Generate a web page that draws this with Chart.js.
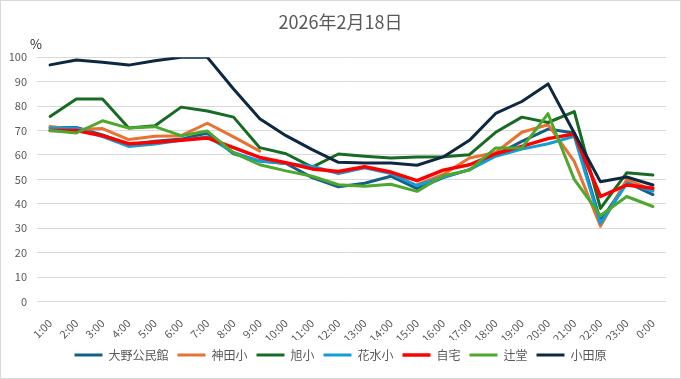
<!DOCTYPE html>
<html>
<head>
<meta charset="utf-8">
<script src="https://cdn.jsdelivr.net/npm/chart.js@4.4.1/dist/chart.umd.min.js"></script>
<style>
  html, body { margin: 0; padding: 0; background: #fff; }
  canvas { display: block; }
</style>
</head>
<body>
<canvas id="c" width="681" height="379"></canvas>
<script>
const titleText = '2026年2月18日';
const unitLabel = '%';
const labels = ['1:00','2:00','3:00','4:00','5:00','6:00','7:00','8:00','9:00','10:00','11:00','12:00',
                '13:00','14:00','15:00','16:00','17:00','18:00','19:00','20:00','21:00','22:00','23:00','0:00'];
const seriesNames = ['大野公民館','神田小','旭小','花水小','自宅','辻堂','小田原'];
const seriesColors = ['#156082','#E97132','#196B24','#0F9ED5','#FF0000','#4EA72E','#0E2841'];

const oonoData    = [71.3, 71.3, 68.2, 64.2, 65.6, 66.5, 69, 60.5, 57.5, 56.5, 50.7, 47, 48.4, 51.3, 46.2, 50.7, 54, 60, 65.6, 70.6, 69, 33, 48.8, 43.8];
const kandaData   = [71.7, 70.4, 70.8, 66.3, 67.7, 67.9, 73, 67.4, 61.6, null, null, null, null, null, 47.9, 52, 58.8, 61, 69.3, 72.4, 57.4, 30.8, 50, 45.5];
const asahiData   = [75.8, 82.9, 82.9, 71, 72, 79.6, 78, 75.5, 63, 60.5, 55, 60.4, 59.5, 58.8, 59.2, 59.3, 60.1, 69.3, 75.5, 73.3, 77.8, 38.1, 52.7, 51.8];
const hanamiData  = [71, 71, 67.5, 63.5, 64.5, 66, 67.5, 61, 57.5, 56.5, 55.4, 52.4, 54.8, 52.4, 47.5, 51, 54, 59.5, 62.4, 64.6, 67.6, 32, 48.3, 45.2];
const jitakuData  = [70, 70, 67.9, 64.6, 65.2, 66, 67, 63, 59, 56.8, 54.3, 53.2, 55.2, 53, 49.5, 53.8, 56, 60.5, 63.5, 66.7, 68.6, 43, 47.7, 46.4];
const tsujiData   = [70, 69, 74, 71, 71.6, 67.9, 69.8, 60.9, 56, 53.5, 51.3, 47.8, 47.2, 48, 45.1, 51.5, 53.8, 62.9, 62.9, 76.9, 50, 35.2, 43, 38.9];
const odawaraData = [96.9, 98.9, 98, 96.8, 98.6, 100, 100, 87, 74.8, 67.9, 62.2, 57, 56.7, 56.7, 55.8, 59.2, 66, 77, 81.9, 89.1, 69, 49, 51, 47.7];
const allSeries = [oonoData, kandaData, asahiData, hanamiData, jitakuData, tsujiData, odawaraData];
const yTickStep = 10;
const yMin = 0, yMax = 100;

const FONT = '"Noto Sans CJK JP", "Noto Sans", sans-serif';
const GREY = '#595959';

const datasets = allSeries.map((d, i) => ({
  label: seriesNames[i],
  data: d,
  borderColor: seriesColors[i],
  backgroundColor: seriesColors[i],
  borderWidth: i === 4 ? 3.5 : 3,
  borderCapStyle: 'round',
  borderJoinStyle: 'round',
  pointRadius: 0,
  pointHoverRadius: 0,
  tension: 0,
  fill: false,
  spanGaps: false,
  order: allSeries.length - i
}));

const framePlugin = {
  id: 'frame',
  beforeDraw(chart) {
    const ctx = chart.ctx;
    ctx.save();
    ctx.fillStyle = '#ffffff';
    ctx.fillRect(0, 0, chart.width, chart.height);
    ctx.restore();
  },
  afterDraw(chart) {
    const ctx = chart.ctx;
    ctx.save();
    ctx.strokeStyle = '#d9d9d9';
    ctx.lineWidth = 1;
    ctx.strokeRect(0.5, 0.5, chart.width - 1, chart.height - 1);
    ctx.fillStyle = '#262626';
    ctx.font = '13px ' + FONT;
    ctx.textAlign = 'center';
    ctx.textBaseline = 'middle';
    ctx.fillText(unitLabel, 36, 44);
    ctx.restore();
  }
};

new Chart(document.getElementById('c'), {
  type: 'line',
  data: { labels: labels, datasets: datasets },
  plugins: [framePlugin],
  options: {
    responsive: false,
    animation: false,
    events: [],
    layout: { padding: { top: 0, left: 0, right: 0, bottom: 8 } },
    plugins: {
      title: {
        display: true,
        text: titleText,
        color: GREY,
        font: { family: FONT, size: 18, weight: 'normal' },
        padding: { top: 11, bottom: 24.7 }
      },
      legend: {
        position: 'bottom',
        labels: {
          usePointStyle: true,
          pointStyle: 'line',
          pointStyleWidth: 28,
          padding: 9,
          color: GREY,
          font: { family: FONT, size: 12 },
          sort: (a, b) => a.datasetIndex - b.datasetIndex
        }
      },
      tooltip: { enabled: false }
    },
    scales: {
      x: {
        offset: true,
        grid: { display: false },
        border: { display: false },
        ticks: {
          autoSkip: false, maxRotation: 45, minRotation: 45, padding: 7,
          color: GREY, font: { family: FONT, size: 11 }
        },
        afterFit(s) { s.height = 38.5; }
      },
      y: {
        min: yMin, max: yMax,
        ticks: { stepSize: yTickStep, padding: 10, color: GREY, font: { family: FONT, size: 11 } },
        grid: { color: '#d9d9d9', lineWidth: 1, drawTicks: false },
        border: { display: false },
        afterFit(s) { s.width = 37; }
      },
      y2: {
        position: 'right',
        display: true,
        grid: { display: false },
        border: { display: false },
        ticks: { display: false },
        afterFit(s) { s.width = 15; }
      }
    }
  }
});
</script>
</body>
</html>
